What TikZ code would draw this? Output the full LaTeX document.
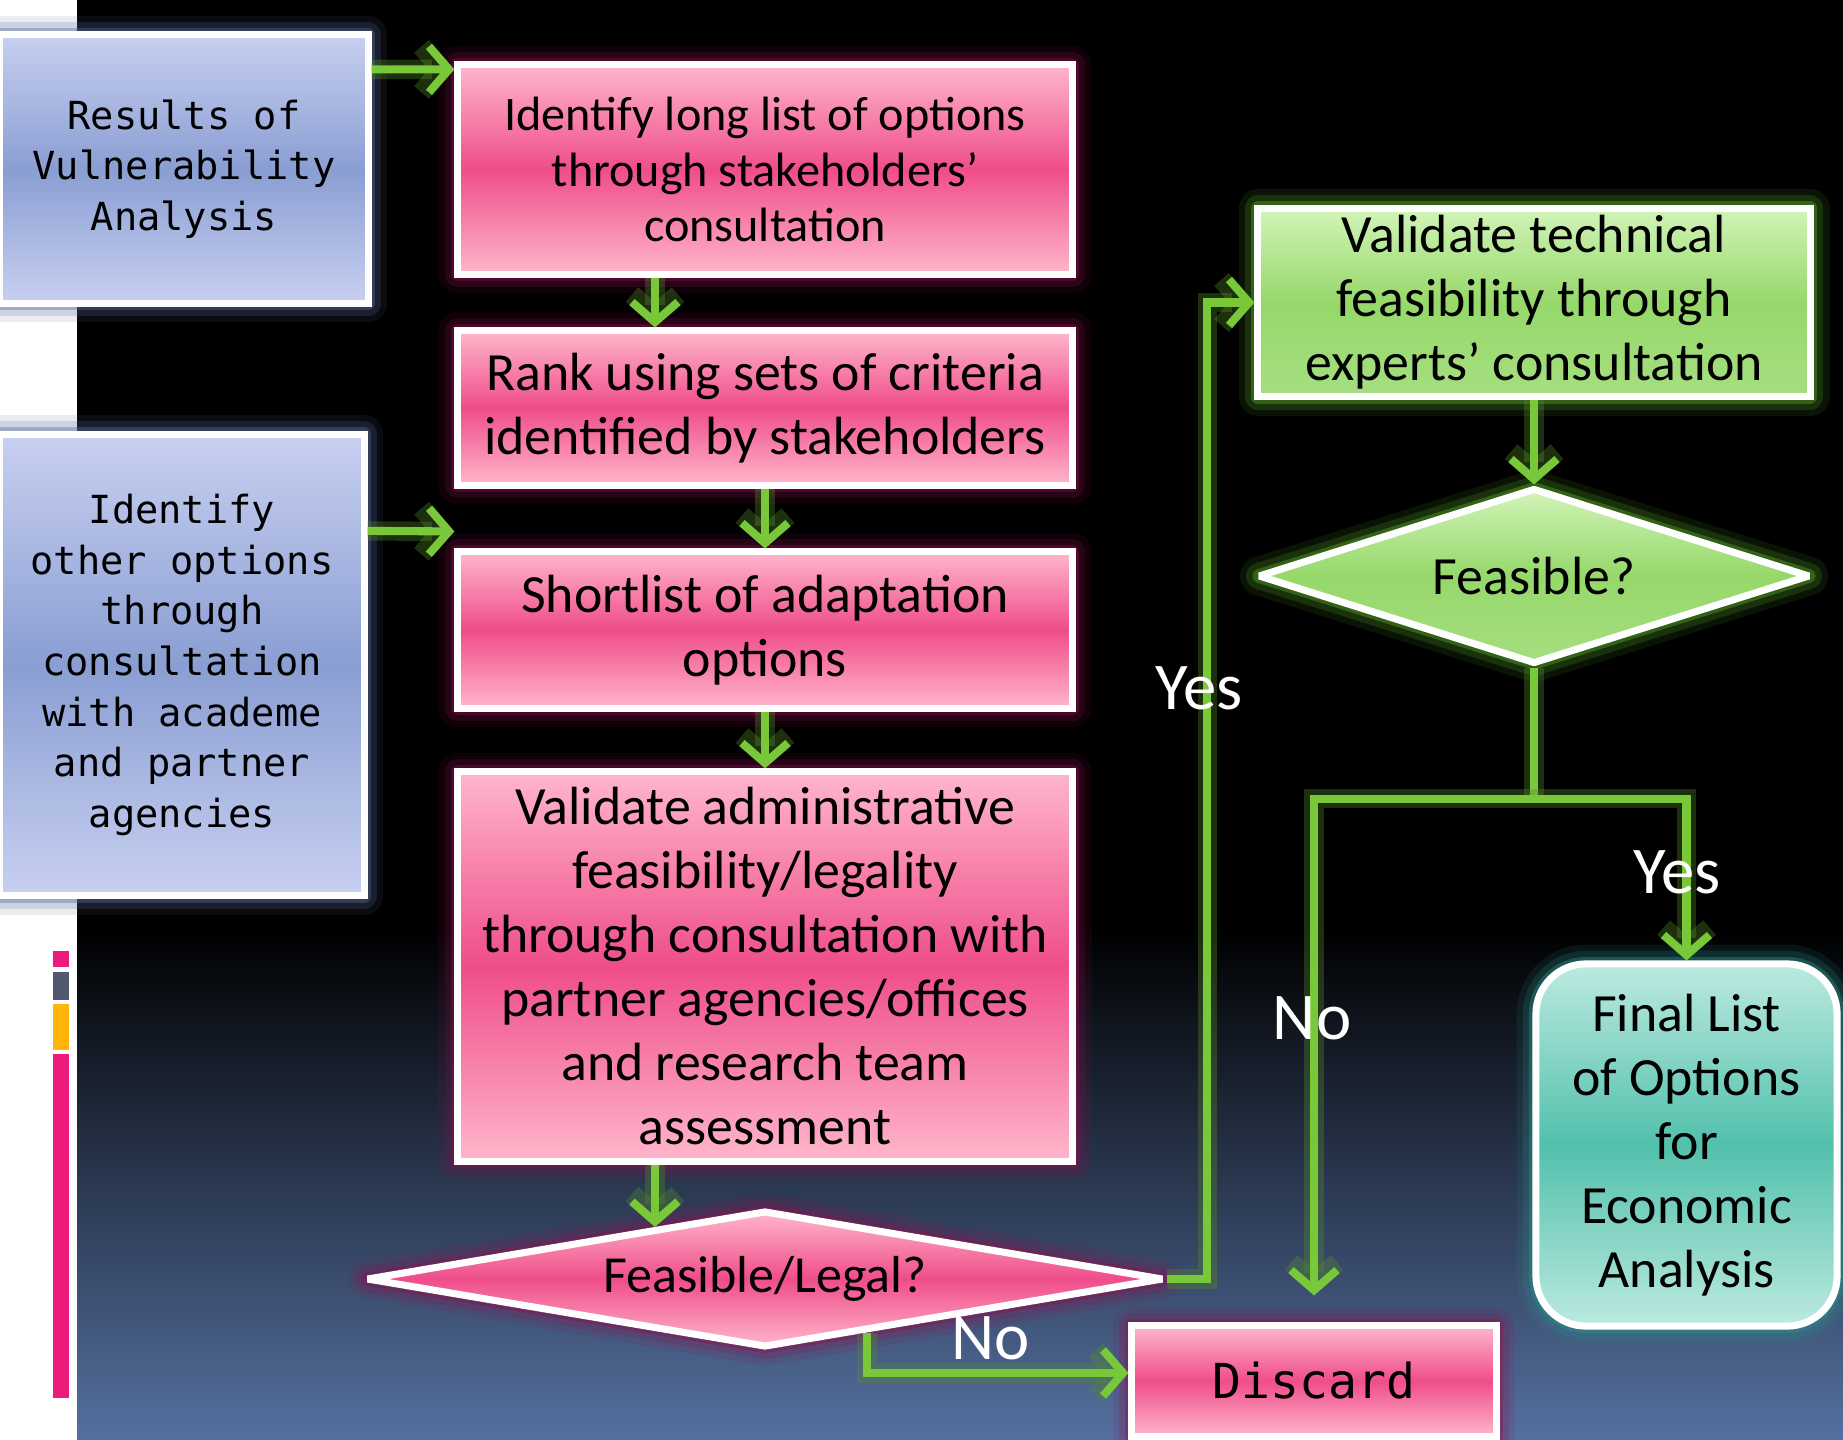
\documentclass[tikz,border=0pt]{standalone}
\usepackage{fontspec}
\setmainfont{Carlito}
\newfontfamily\monofont{DejaVu Sans Mono}
\usepackage{tikz}
\usetikzlibrary{positioning, arrows.meta, shapes.geometric, calc}

\definecolor{pinkmid}{HTML}{EF4D8A}
\definecolor{pinklight}{HTML}{FFB6CB}
\definecolor{pinkglow}{HTML}{8A1050}
\definecolor{bluemid}{HTML}{8A9ED3}
\definecolor{bluelight}{HTML}{C8D0F0}
\definecolor{blueglow}{HTML}{5A6A9A}
\definecolor{greenmid}{HTML}{96D86A}
\definecolor{greenlight}{HTML}{D2F4B8}
\definecolor{greenglow}{HTML}{5AAA28}
\definecolor{tealmid}{HTML}{52C0AC}
\definecolor{teallight}{HTML}{BCEAE0}
\definecolor{tealglow}{HTML}{2A9088}
\definecolor{arrgreen}{HTML}{78C83A}
\definecolor{bgblue}{HTML}{5570A0}
\definecolor{barpink}{HTML}{EC1A7A}
\definecolor{bargray}{HTML}{4F5A6E}
\definecolor{barorange}{HTML}{FFB50C}

\begin{document}
\begin{tikzpicture}[
    x=0.01cm, y=-0.01cm,
    glow/.style={preaction={draw=#1, line width=11pt, opacity=.12, line join=round},
                 preaction={draw=#1, line width=7.5pt, opacity=.2, line join=round},
                 preaction={draw=#1, line width=4pt, opacity=.4, line join=round}},
    box/.style={draw=white, line width=2pt, align=center, inner sep=2pt,
                font=\fontsize{15.3}{18.2}\selectfont},
    pinkbox/.style={box, glow=pinkglow, top color=pinklight, bottom color=pinklight,
                    middle color=pinkmid, minimum width=6.14cm},
    bluebox/.style={box, glow=blueglow, top color=bluelight, bottom color=bluelight,
                    middle color=bluemid, font=\monofont\fontsize{11}{14.4}\selectfont},
    greenbox/.style={box, glow=greenglow, top color=greenlight, bottom color=greenmid!85!white,
                     middle color=greenmid},
    tealbox/.style={box, glow=tealglow, top color=teallight, bottom color=teallight,
                    middle color=tealmid, rounded corners=0.5cm},
    diam/.style={shape=diamond, inner sep=0pt, line join=bevel},
    arr/.style={draw=arrgreen, line width=2.3pt,
                -{Straight Barb[length=2mm, width=4.6mm]},
                preaction={draw=arrgreen!70!black, line width=5.5pt, opacity=.35}},
    lbl/.style={text=white, inner sep=0pt, font=\fontsize{19}{22}\selectfont}
]
\useasboundingbox (0,0) rectangle (1843,1440);
% fondo
\fill[black] (77,0) rectangle (1843,1440);
\shade[top color=black, bottom color=bgblue] (77,930) rectangle (1843,1440);
\fill[white] (0,0) rectangle (77,1440);
\fill[barpink]   (53,951)  rectangle (69,967);
\fill[bargray]   (53,972)  rectangle (69,1000);
\fill[barorange] (53,1004) rectangle (69,1050);
\fill[barpink]   (53,1054) rectangle (69,1398);

% left column
\node[bluebox, minimum width=3.68cm, minimum height=2.68cm] (results) at (184,169)
    {Results of\\Vulnerability\\Analysis};
\node[bluebox, minimum width=3.64cm, minimum height=4.61cm] (otheropts) at (182,665)
    {Identify\\other options\\through\\consultation\\with academe\\and partner\\agencies};

% middle column
\node[pinkbox, minimum height=2.09cm, font=\fontsize{13.7}{15.9}\selectfont] (longlist) at (765,169.5)
    {Identify long list of options\\through stakeholders’\\consultation};
\node[pinkbox, minimum height=1.54cm] (rank) at (765,408)
    {Rank using sets of criteria\\identified by stakeholders};
\node[pinkbox, minimum height=1.56cm] (shortlist) at (765,630)
    {Shortlist of adaptation\\options};
\node[pinkbox, minimum height=3.89cm] (admin) at (765,966.5)
    {Validate administrative\\feasibility/legality\\through consultation with\\partner agencies/offices\\and research team\\assessment};
\node[pinkbox, diam, aspect=5.8, minimum width=7.97cm, minimum height=1.37cm, font=\fontsize{14.8}{17}\selectfont] (feaslegal) at (765,1279)
    {Feasible/Legal?};
\node[pinkbox, minimum width=3.64cm, minimum height=1.10cm, font=\monofont\fontsize{13.7}{16}\selectfont] (discard) at (1314,1381)
    {Discard};

% right column
\node[greenbox, minimum width=5.52cm, minimum height=1.87cm] (technical) at (1534,302.5)
    {Validate technical\\feasibility through\\experts’ consultation};
\node[greenbox, diam, aspect=3.1, minimum width=5.52cm, minimum height=1.76cm] (feasible) at (1534,576)
    {Feasible?};
\node[tealbox, minimum width=3.01cm, minimum height=3.62cm] (finallist) at (1686.5,1145)
    {Final List\\of Options\\for\\Economic\\Analysis};

% connectors
\draw[arr] ([yshift=-0.38cm]results.north east) -- ([yshift=-0.08cm]longlist.north west);
\draw[arr] ([yshift=-1.0cm]otheropts.north east) -- ([yshift=0.17cm]shortlist.north west);
\draw[arr] ([xshift=-1.1cm]longlist.south) -- ([xshift=-1.1cm]rank.north);
\draw[arr] (rank.south) -- (shortlist.north);
\draw[arr] (shortlist.south) -- (admin.north);
\draw[arr] ([xshift=-1.1cm]admin.south) -- ([xshift=-1.1cm,yshift=-0.2cm]feaslegal.north);
\draw[arr] ([xshift=1.02cm,yshift=0.18cm]feaslegal.south) |- ([yshift=0.08cm]discard.west);
\draw[arr] (feaslegal.east) -- ([xshift=-0.47cm]technical.west |- feaslegal.east) |- (technical.west);
\draw[arr] (technical.south) -- (feasible.north);
\coordinate (split) at ([yshift=-1.31cm]feasible.south);
\draw[arr, -] (feasible.south) -- (split);
\draw[arr] (split) -| (finallist.north);
\draw[arr] (split) -| ([yshift=0.27cm]discard.north);

% labels
\node[lbl] (yes1) at (1199,688) {Yes};
\node[lbl] (yes2) at (1677,872) {Yes};
\node[lbl] (no1) at (1312,1018) {No};
\node[lbl] (no2) at (991,1338) {No};
\end{tikzpicture}
\end{document}
